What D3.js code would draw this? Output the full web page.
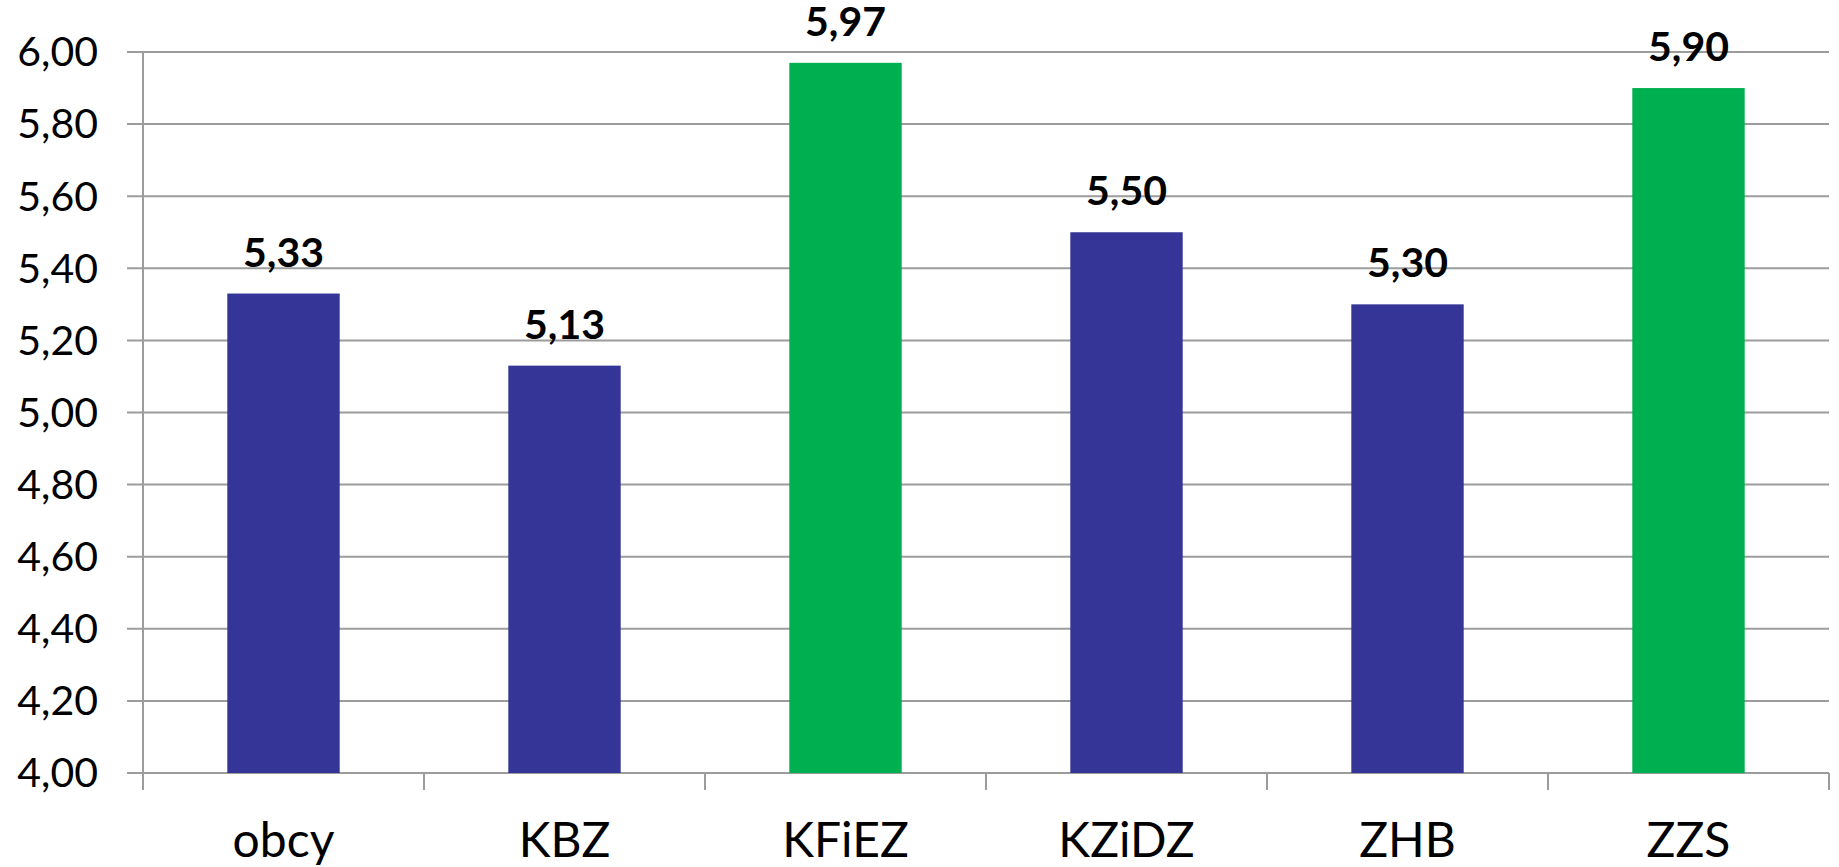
<!DOCTYPE html>
<html>
<head>
<meta charset="utf-8">
<script src="https://cdn.jsdelivr.net/npm/d3@7"></script>
<style>
  html, body { margin: 0; padding: 0; background: #fff; }
  svg text { font-family: Lato, "Open Sans", sans-serif; fill: #000; }
</style>
</head>
<body>
<svg width="1839" height="867"></svg>
<script>
let categories = ["obcy", "KBZ", "KFiEZ", "KZiDZ", "ZHB", "ZZS"];
let values = [5.33, 5.13, 5.97, 5.50, 5.30, 5.90];
let highlighted = ["KFiEZ", "ZZS"];
let yTicks = [4.0, 4.2, 4.4, 4.6, 4.8, 5.0, 5.2, 5.4, 5.6, 5.8, 6.0];

let svg = d3.select("svg");
let plotLeft = 143, plotRight = 1829, plotTop = 52, plotBottom = 773;

let pl = d3.formatLocale({decimal: ",", thousands: " ", grouping: [3], currency: ["", ""]});
let fmt = pl.format(".2f");

let x = d3.scaleBand()
  .domain(categories)
  .range([plotLeft, plotRight])
  .paddingInner(0.6)
  .paddingOuter(0.3);
let y = d3.scaleLinear()
  .domain([4, 6])
  .range([plotBottom, plotTop]);

// gridlines + y labels
let yg = svg.append("g");
yg.selectAll("line")
  .data(yTicks)
  .enter().append("line")
    .attr("x1", plotLeft - 16)
    .attr("x2", plotRight)
    .attr("y1", d => y(d))
    .attr("y2", d => y(d))
    .attr("stroke", "#9c9c9c")
    .attr("stroke-width", 2);
yg.selectAll("text")
  .data(yTicks)
  .enter().append("text")
    .attr("x", 98)
    .attr("y", d => y(d))
    .attr("dy", "0.35em")
    .attr("text-anchor", "end")
    .attr("font-size", 41)
    .text(d => fmt(d));

// bars
svg.append("g")
  .selectAll("rect")
  .data(categories)
  .enter().append("rect")
    .attr("x", d => x(d))
    .attr("width", x.bandwidth())
    .attr("y", (d, i) => y(values[i]))
    .attr("height", (d, i) => y(4) - y(values[i]))
    .attr("fill", d => highlighted.includes(d) ? "#00b050" : "#353598");

// value labels
svg.append("g")
  .selectAll("text")
  .data(categories)
  .enter().append("text")
    .attr("x", d => x(d) + x.bandwidth() / 2)
    .attr("y", (d, i) => y(values[i]) - 27)
    .attr("text-anchor", "middle")
    .attr("font-size", 41)
    .attr("font-weight", "bold")
    .text((d, i) => fmt(values[i]));

// axis line and category ticks
let step = x.step();
let bounds = d3.range(categories.length + 1).map(i => plotLeft + i * step);
svg.append("line")
  .attr("x1", plotLeft).attr("x2", plotLeft)
  .attr("y1", plotTop).attr("y2", plotBottom + 17)
  .attr("stroke", "#9c9c9c").attr("stroke-width", 2);
svg.append("g")
  .selectAll("line")
  .data(bounds)
  .enter().append("line")
    .attr("x1", d => d).attr("x2", d => d)
    .attr("y1", plotBottom).attr("y2", plotBottom + 17)
    .attr("stroke", "#9c9c9c").attr("stroke-width", 2);

// category labels
svg.append("g")
  .selectAll("text")
  .data(categories)
  .enter().append("text")
    .attr("x", d => x(d) + x.bandwidth() / 2)
    .attr("y", 857)
    .attr("text-anchor", "middle")
    .attr("font-size", 48)
    .text(d => d);
</script>
</body>
</html>
